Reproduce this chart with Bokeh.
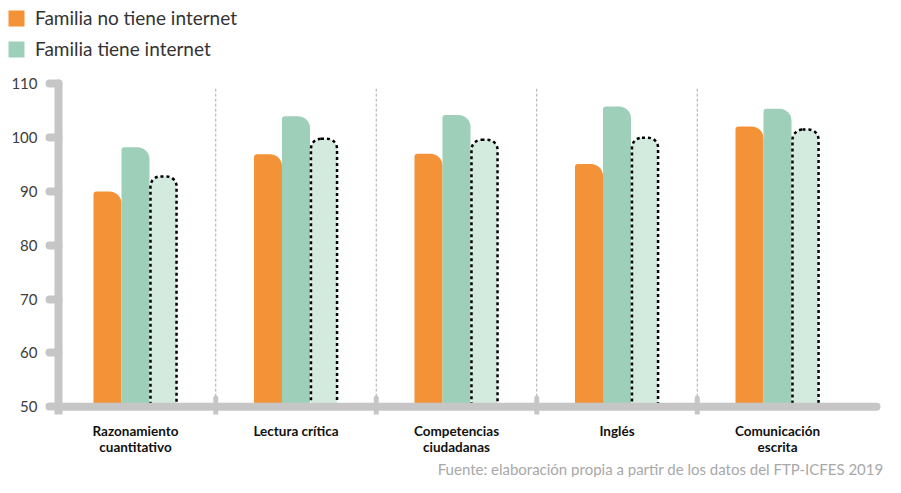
from bokeh.plotting import figure
from bokeh.models import FixedTicker, Legend, LegendItem, Title, Range1d
from bokeh.embed import file_html
from bokeh.resources import INLINE

categories = ["Razonamiento\ncuantitativo", "Lectura crítica", "Competencias\nciudadanas", "Inglés", "Comunicación\nescrita"]
sin_internet = [90.0, 96.9, 97.0, 95.1, 102.1]
con_internet = [98.2, 104.0, 104.2, 105.8, 105.4]
referencia = [92.8, 99.8, 99.6, 100.0, 101.5]
y_ticks = [50, 60, 70, 80, 90, 100, 110]
legend_labels = ["Familia no tiene internet", "Familia tiene internet"]
source_text = "Fuente: elaboración propia a partir de los datos del FTP-ICFES 2019"

ORANGE = "#f39237"
GREEN = "#9ed0b9"
LIGHT = "#d3eadf"
GRAY = "#c6c6c6"
FONT = "Lato"

idx = list(range(len(categories)))
bw = 0.1745
axis_x = -0.4798

p = figure(width=885, height=477, output_backend="svg", toolbar_location=None,
           x_range=Range1d(-0.8411, 4.6729), y_range=Range1d(48.54, 125.5),
           min_border_left=0, min_border_right=0, min_border_top=0, min_border_bottom=55)
p.outline_line_color = None
p.xgrid.visible = False
p.ygrid.visible = False
p.background_fill_color = "white"

# separators
seps = [i + 0.5 for i in idx[:-1]]
p.segment(x0=seps, x1=seps, y0=[50] * len(seps), y1=[109.1] * len(seps),
          line_color="#aaaaaa", line_width=1, line_dash="3 2")

r1 = p.vbar(x=[i - bw for i in idx], top=sin_internet, bottom=50, width=bw,
            fill_color=ORANGE, line_color=None, border_radius=(3, 12, 0, 0))
r2 = p.vbar(x=idx, top=con_internet, bottom=50, width=bw,
            fill_color=GREEN, line_color=None, border_radius=(3, 12, 0, 0))
r3 = p.vbar(x=[i + bw for i in idx], top=referencia, bottom=50, width=bw - 0.012,
            fill_color=LIGHT, line_color="black", line_width=2.5, line_dash="3 3",
            border_radius=(10, 10, 0, 0))

# horizontal baseline
p.segment(x0=[axis_x], x1=[4.617], y0=[50], y1=[50], line_color=GRAY, line_width=8, line_cap="round")
# separator stubs on axis
p.segment(x0=seps, x1=seps, y0=[48.6] * len(seps), y1=[51.6] * len(seps),
          line_color=GRAY, line_width=5, line_cap="round")

ya = p.yaxis[0]
ya.fixed_location = axis_x
ya.bounds = (48.54, 110)
ya.ticker = FixedTicker(ticks=y_ticks)
ya.axis_line_width = 8
ya.axis_line_color = GRAY
ya.axis_line_cap = "round"
ya.major_tick_line_width = 8
ya.major_tick_line_color = GRAY
ya.major_tick_line_cap = "round"
ya.major_tick_out = 9
ya.major_tick_in = 0
ya.minor_tick_line_color = None
ya.minor_tick_out = 0
ya.minor_tick_in = 0
ya.major_label_text_font_size = "15px"
ya.major_label_text_font = FONT
ya.major_label_text_color = "#3c3c3c"
ya.major_label_standoff = 12

xa = p.xaxis[0]
xa.ticker = FixedTicker(ticks=idx)
xa.major_label_overrides = {i: c for i, c in zip(idx, categories)}
xa.axis_line_color = None
xa.major_tick_line_color = None
xa.minor_tick_line_color = None
xa.major_tick_out = 0
xa.major_tick_in = 0
xa.minor_tick_out = 0
xa.minor_tick_in = 0
xa.major_label_text_font_size = "13.5px"
xa.major_label_text_font = FONT
xa.major_label_text_font_style = "bold"
xa.major_label_text_color = "#111111"
xa.major_label_text_line_height = 1.0
xa.major_label_standoff = 8

legend = Legend(items=[LegendItem(label=legend_labels[0], renderers=[r1]),
                       LegendItem(label=legend_labels[1], renderers=[r2])],
                location="top_left", orientation="vertical",
                glyph_width=20, glyph_height=20, label_height=20,
                label_text_font_size="19px", label_text_color="#333333", label_text_font=FONT,
                label_standoff=9, spacing=8, padding=0, margin=6,
                border_line_color=None, background_fill_alpha=0)
p.add_layout(legend)

src = Title(text=source_text, align="right", text_font_size="15px", text_font_style="normal",
            text_color="#a8a8a8", text_font=FONT, standoff=0, offset=2)
p.add_layout(src, "below")

open("out.html", "w").write(file_html(p, INLINE))
